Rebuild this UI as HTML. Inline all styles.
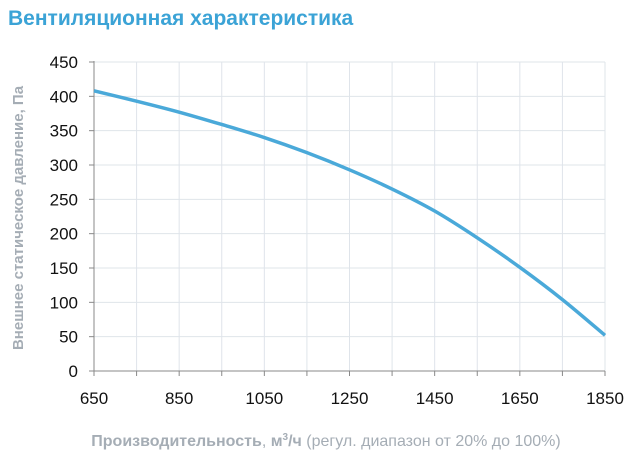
<!DOCTYPE html>
<html><head><meta charset="utf-8"><style>
body{margin:0;background:#fff;width:631px;height:459px;overflow:hidden;font-family:"Liberation Sans",sans-serif}
</style></head><body>
<svg width="631" height="459" id="c">
<text x="8" y="25" font-size="21" font-weight="bold" fill="#3ba3d6">Вентиляционная характеристика</text>
<text transform="translate(23,218) rotate(-90)" text-anchor="middle" font-size="15" font-weight="bold" fill="#a5adb5">Внешнее статическое давление, Па</text>
<text x="326" y="446" text-anchor="middle" font-size="16" fill="#a5adb5"><tspan font-weight="bold">Производительность</tspan>, <tspan font-weight="bold">м<tspan dy="-6" font-size="10">3</tspan><tspan dy="6">/ч</tspan></tspan> (регул. диапазон от 20% до 100%)</text>
<g id="grid"></g><g id="axes"></g><g id="series"></g>
</svg>
<script>
const xTicks=[650,750,850,950,1050,1150,1250,1350,1450,1550,1650,1750,1850];
const xLabels=[650,850,1050,1250,1450,1650,1850];
const yTicks=[0,50,100,150,200,250,300,350,400,450];
const flow=[650,750,850,950,1050,1150,1250,1350,1450,1550,1650,1750,1850];
const pressure=[408,393,377,359,340,318,293,265,233,194,151,104,52];
const X0=94,X1=605,Y0=371,Y1=62;
const xs=v=>X0+(v-650)/(1850-650)*(X1-X0);
const ys=v=>Y0-v/450*(Y0-Y1);
const NS="http://www.w3.org/2000/svg";
const mk=(t,a,p)=>{const e=document.createElementNS(NS,t);for(const k in a)e.setAttribute(k,a[k]);p.appendChild(e);return e;};
const g=document.getElementById('grid'),ax=document.getElementById('axes'),s=document.getElementById('series');
yTicks.forEach(v=>{
 if(v>0){const l=mk('line',{x1:X0,x2:X1,y1:ys(v),y2:ys(v),stroke:'#dfe4ea','stroke-width':1},g);
 
 }
 const tk=mk('line',{x1:X0-5,x2:X0,y1:ys(v),y2:ys(v),stroke:'#888'},ax);
 
 
 const t=mk('text',{x:X0-16,y:ys(v)+6,'text-anchor':'end','font-size':17,fill:'#111'},ax);t.textContent=v;
 
 
});
xTicks.forEach(v=>{
 if(v>650){const l=mk('line',{x1:xs(v),x2:xs(v),y1:Y1,y2:Y0,stroke:'#dfe4ea'},g);
 
 }
 const tk=mk('line',{x1:xs(v),x2:xs(v),y1:Y0,y2:Y0+5,stroke:'#888'},ax);
 
 
});
xLabels.forEach(v=>{
 const t=mk('text',{x:xs(v),y:404,'text-anchor':'middle','font-size':17,fill:'#111'},ax);t.textContent=v;
 
 
});
const ya=mk('line',{x1:X0,x2:X0,y1:Y1-1,y2:Y0,stroke:'#888'},ax);


const xa=mk('line',{x1:X0,x2:X1,y1:Y0,y2:Y0,stroke:'#888'},ax);


const P=flow.map((f,i)=>[xs(f),ys(pressure[i])]);
let d='M'+P[0][0]+','+P[0][1];
for(let i=0;i<P.length-1;i++){const p0=P[Math.max(0,i-1)],p1=P[i],p2=P[i+1],p3=P[Math.min(P.length-1,i+2)];
 d+=` C${p1[0]+(p2[0]-p0[0])/6},${p1[1]+(p2[1]-p0[1])/6} ${p2[0]-(p3[0]-p1[0])/6},${p2[1]-(p3[1]-p1[1])/6} ${p2[0]},${p2[1]}`;}
const c=mk('path',{d:d,fill:'none',stroke:'#4aa9d9','stroke-width':3.5},s);


</script>
</body></html>
